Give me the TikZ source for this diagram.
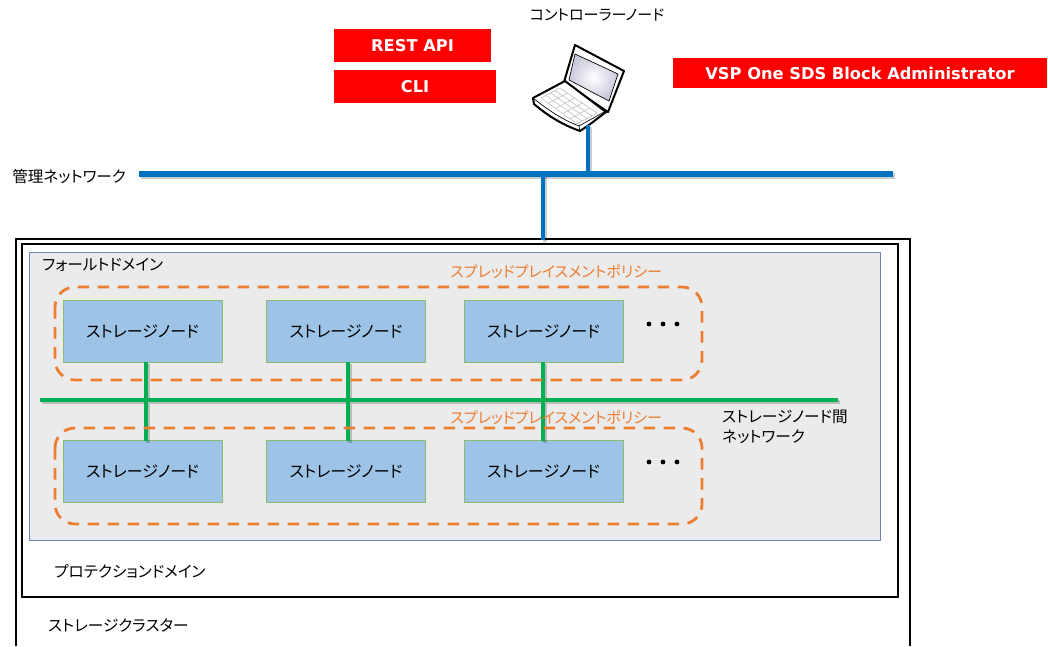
\documentclass[tikz,border=0pt]{standalone}
\usepackage{fontspec}
\setmainfont{Noto Sans CJK JP}[RawFeature=+palt]
\newfontfamily\latinbold{DejaVu Sans}
\usepackage{tikz}

\definecolor{netblue}{HTML}{0070C0}
\definecolor{netgreen}{HTML}{00B050}
\definecolor{polorange}{HTML}{ED7D31}
\definecolor{nodeblue}{HTML}{9DC3E6}
\definecolor{nodeedge}{HTML}{8CBB6B}
\definecolor{domainfill}{HTML}{EBEBEB}
\definecolor{domainedge}{HTML}{6F84B5}

\tikzset{
    storagenode/.style={draw=nodeedge,fill=nodeblue,line width=0.7pt,minimum width=119.25pt,minimum height=46.5pt,inner sep=0pt,font=\fontsize{12pt}{14pt}\selectfont},
    redbox/.style={fill=red,text=white,inner sep=0pt,font=\fontsize{12.2pt}{15pt}\latinbold\bfseries},
    plainlabel/.style={inner sep=0pt,font=\fontsize{11.7pt}{14pt}\selectfont},
    polabel/.style={plainlabel,text=polorange,font=\fontsize{11.3pt}{14pt}\selectfont},
    lineshadow/.style={draw=black,opacity=0.2,transform canvas={shift={(1.6pt,-1.6pt)}}},
    mgmtline/.style={draw=netblue},
    dataline/.style={draw=netgreen,line width=2.6pt},
    policybox/.style={draw=polorange,line width=2.1pt,dash pattern=on 8.7pt off 6.3pt,rounded corners=15pt},
    dots/.style={circle,fill=black,inner sep=0pt,minimum size=3.6pt}
}

\begin{document}
\begin{tikzpicture}[x=0.75pt,y=-0.75pt]
        \useasboundingbox (0,0) rectangle (1048,646);

        % --- Draw cluster, protection domain and fault domain ---
        \draw[line width=1.5pt] (16,646) -- (16,239) -- (910,239) -- (910,646);
        \draw[line width=1.5pt,fill=white] (22,244) rectangle (898,597);
        \draw[draw=domainedge,fill=domainfill,line width=0.6pt] (29,252) rectangle (880,540);
        \node[plainlabel,anchor=west] (faultLabel) at (42,265) {フォールトドメイン};
        \node[plainlabel,anchor=west] (protectionLabel) at (54,571) {プロテクションドメイン};
        \node[plainlabel,anchor=west] (clusterLabel) at (48,625) {ストレージクラスター};
        % ---

        % --- Draw storage nodes ---
        \node[storagenode] (storage1) at (142.5,331) {ストレージノード};
        \node[storagenode] (storage2) at (346,331) {ストレージノード};
        \node[storagenode] (storage3) at (543.5,331) {ストレージノード};
        \node[storagenode] (storage4) at (142.5,471.5) {ストレージノード};
        \node[storagenode] (storage5) at (346,471.5) {ストレージノード};
        \node[storagenode] (storage6) at (543.5,471.5) {ストレージノード};
        % ---

        % --- Draw storage node network ---
        \coordinate (dataLeft) at (40,400);
        \coordinate (dataRight) at (838,400);
        \draw[lineshadow,line width=2.6pt] (146,362) -- (146,441) (348,362) -- (348,441) (543,362) -- (543,441) (dataLeft) -- (dataRight);
        \draw[dataline] (dataLeft) -- (dataRight);
        \draw[dataline] (146,362) -- (146,441);
        \draw[dataline] (348,362) -- (348,441);
        \draw[dataline] (543,362) -- (543,441);
        \node[plainlabel,anchor=west] (dataLabel1) at (722,417) {ストレージノード間};
        \node[plainlabel,anchor=west] (dataLabel2) at (722,437) {ネットワーク};
        % ---

        % --- Draw spread placement policy ---
        \draw[policybox] (55,287) rectangle (702,380);
        \draw[policybox] (55,428) rectangle (702,524);
        \node[polabel,anchor=west] (policyLabel1) at (450,272) {スプレッドプレイスメントポリシー};
        \node[polabel,anchor=west] (policyLabel2) at (450,418) {スプレッドプレイスメントポリシー};
        \node[dots] (dot1) at (649,324) {};
        \node[dots] (dot2) at (663,324) {};
        \node[dots] (dot3) at (677,324) {};
        \node[dots] (dot4) at (649,462) {};
        \node[dots] (dot5) at (663,462) {};
        \node[dots] (dot6) at (677,462) {};
        % ---

        % --- Draw laptop ---
        \draw[line width=1.5pt,line join=round,fill=white] (575,45) -- (624,71) -- (608,112) -- (564,82) -- cycle;
        \draw[line width=0.5pt,inner color=white,outer color=blue!22!gray!35] (575,54) -- (618,74) -- (609,101) -- (569,80) -- cycle;
        \draw[line width=1.5pt,line join=round,fill=white] (565,81) -- (533,98) -- (534,104) .. controls (548,116) and (563,125) .. (580,131) -- (589,125) -- (606,112) -- cycle;
        \draw[line width=0.5pt] (533,98) .. controls (548,110) and (563,120) .. (579,126) -- (580,131);
        \draw[line width=0.5pt] (579,126) -- (604,112);
        % keyboard
        \draw[gray!45,line width=0.5pt] (560,88) -- (597,113) (555,90.5) -- (592,116) (550.5,93) -- (587,118.5) (546,95.5) -- (582,121) (541,98) -- (577,124);
        \draw[gray!45,line width=0.5pt] (560,88) -- (541,98) (567.4,93) -- (548.2,103.2) (574.8,98) -- (555.4,108.4) (582.2,103) -- (562.6,113.6) (589.6,108) -- (569.8,118.8) (597,113) -- (577,124);
        \coordinate (laptopPort) at (588,125);
        % ---

        % --- Draw management network and controller ---
        \coordinate (mgmtLeft) at (139,174);
        \coordinate (mgmtRight) at (893,174);
        \coordinate (mgmtPort) at (588,174);
        \coordinate (mgmtDown) at (543,174);
        \coordinate (clusterTop) at (543,240);
        \draw[lineshadow,line width=2.6pt] (laptopPort) -- (mgmtPort) (mgmtDown) -- (clusterTop);
        \draw[lineshadow,line width=4pt] (mgmtLeft) -- (mgmtRight);
        \draw[mgmtline,line width=2.6pt] (laptopPort) -- (mgmtPort);
        \draw[mgmtline,line width=2.6pt] (mgmtDown) -- (clusterTop);
        \draw[mgmtline,line width=4pt] (mgmtLeft) -- (mgmtRight);
        \node[plainlabel,anchor=west] (mgmtLabel) at (12,177) {管理ネットワーク};
        \node[polabel,text=black] (controllerLabel) at (597,15) {コントローラーノード};
        % ---

        % --- Draw red interface labels ---
        \node[redbox,minimum width=117.75pt,minimum height=24.75pt] (restApi) at (412.5,45.5) {REST API};
        \node[redbox,minimum width=121.5pt,minimum height=24.75pt] (cliBox) at (415,86.5) {CLI};
        \node[redbox,minimum width=280.5pt,minimum height=22.5pt] (adminBox) at (860,73) {VSP One SDS Block Administrator};
        % ---
    \end{tikzpicture}
\end{document}
